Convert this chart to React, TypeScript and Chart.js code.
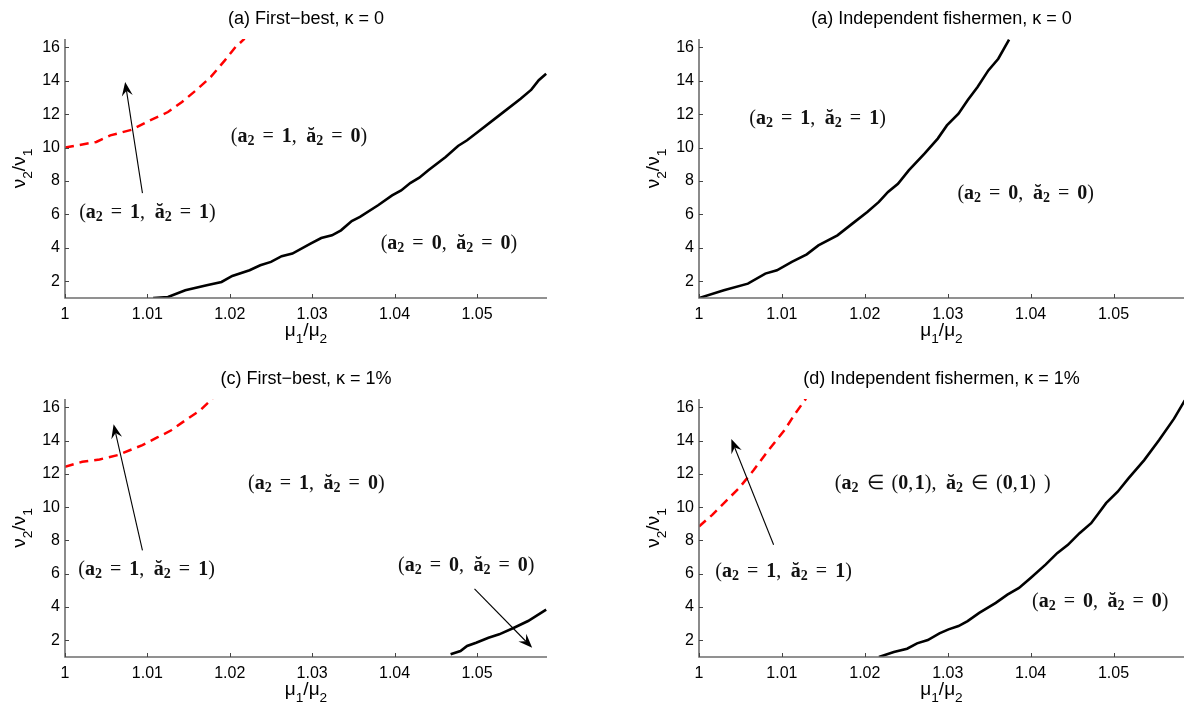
import React, { useEffect, useRef } from 'react';
import { Chart, registerables } from 'chart.js';

Chart.register(...registerables);

// ---------- data ----------
const xTicks = [1, 1.01, 1.02, 1.03, 1.04, 1.05];
const yTicks = [2, 4, 6, 8, 10, 12, 14, 16];
const xRange = [1, 1.0585];
const yRange = [1, 16.5];

// (a) First-best, kappa = 0
const aRedX = [1, 1.0038, 1.0055, 1.0081, 1.0103, 1.0125, 1.0142, 1.0159, 1.0177, 1.0194, 1.0207, 1.0218];
const aRedY = [10.0, 10.34, 10.73, 11.07, 11.63, 12.13, 12.73, 13.43, 14.23, 15.22, 16.02, 16.52];
const aBlackX = [1.0107, 1.0125, 1.0146, 1.0172, 1.019, 1.0203, 1.0224, 1.0237, 1.025, 1.0263, 1.0276, 1.0298, 1.0311, 1.0324, 1.0335, 1.0348, 1.0358, 1.038, 1.0397, 1.0408, 1.0419, 1.043, 1.0441, 1.0462, 1.0477, 1.0488, 1.0501, 1.0527, 1.0553, 1.0566, 1.0575, 1.0584];
const aBlackY = [1.0, 1.06, 1.46, 1.76, 1.96, 2.32, 2.66, 2.96, 3.16, 3.5, 3.66, 4.25, 4.59, 4.75, 5.05, 5.61, 5.85, 6.55, 7.14, 7.44, 7.88, 8.2, 8.64, 9.44, 10.1, 10.44, 10.93, 11.93, 12.93, 13.47, 14.03, 14.42];

// (b) Independent fishermen, kappa = 0
const bBlackX = [1, 1.003, 1.0059, 1.008, 1.0094, 1.0112, 1.013, 1.0144, 1.0167, 1.0185, 1.0203, 1.0217, 1.0228, 1.024, 1.0253, 1.0272, 1.0288, 1.0299, 1.0313, 1.0324, 1.0336, 1.0349, 1.0361, 1.0374];
const bBlackY = [1.0, 1.46, 1.86, 2.46, 2.66, 3.16, 3.61, 4.15, 4.75, 5.45, 6.15, 6.75, 7.35, 7.84, 8.64, 9.64, 10.54, 11.33, 12.03, 12.83, 13.63, 14.62, 15.32, 16.46];

// (c) First-best, kappa = 1%
const cRedX = [1, 1.0021, 1.0042, 1.0064, 1.0094, 1.0112, 1.0129, 1.0146, 1.0164, 1.0179];
const cRedY = [12.43, 12.73, 12.87, 13.13, 13.73, 14.19, 14.62, 15.22, 15.82, 16.52];
const cBlackX = [1.0468, 1.048, 1.0488, 1.0499, 1.0514, 1.0527, 1.0545, 1.0562, 1.0584];
const cBlackY = [1.16, 1.36, 1.66, 1.86, 2.16, 2.36, 2.76, 3.16, 3.85];

// (d) Independent fishermen, kappa = 1%
const dRedX = [1, 1.0016, 1.0034, 1.0048, 1.0066, 1.0084, 1.0103, 1.0116, 1.0129];
const dRedY = [8.84, 9.54, 10.44, 11.13, 12.23, 13.43, 14.62, 15.62, 16.52];
const dBlackX = [1.0217, 1.0235, 1.0251, 1.0263, 1.0276, 1.029, 1.0301, 1.0313, 1.0324, 1.0338, 1.0358, 1.0372, 1.0386, 1.04, 1.0418, 1.0432, 1.0445, 1.0459, 1.0473, 1.0482, 1.0491, 1.0505, 1.0518, 1.0537, 1.0555, 1.0573, 1.0586];
const dBlackY = [1.0, 1.3, 1.5, 1.82, 2.02, 2.42, 2.66, 2.86, 3.16, 3.65, 4.25, 4.75, 5.15, 5.75, 6.55, 7.24, 7.74, 8.44, 9.04, 9.64, 10.24, 10.93, 11.73, 12.83, 14.03, 15.32, 16.42];

const titles = [
  '(a) First\u2212best, \u03ba = 0',
  '(a) Independent fishermen, \u03ba = 0',
  '(c) First\u2212best, \u03ba = 1%',
  '(d) Independent fishermen, \u03ba = 1%',
];
const xLabel = '\u03bc_1/\u03bc_2';
const yLabel = '\u03bd_2/\u03bd_1';

const aLabels = [
  { text: '(a_2 = 1, \u0103_2 = 0)', x: 1.0284, y: 10.67 },
  { text: '(a_2 = 1, \u0103_2 = 1)', x: 1.01, y: 6.11 },
  { text: '(a_2 = 0, \u0103_2 = 0)', x: 1.0466, y: 4.25 },
];
const aArrows = [{ x0: 1.0094, y0: 7.28, x1: 1.0073, y1: 13.93 }];
const bLabels = [
  { text: '(a_2 = 1, \u0103_2 = 1)', x: 1.0143, y: 11.73 },
  { text: '(a_2 = 0, \u0103_2 = 0)', x: 1.0394, y: 7.24 },
];
const bArrows: any[] = [];
const cLabels = [
  { text: '(a_2 = 1, \u0103_2 = 0)', x: 1.0305, y: 11.39 },
  { text: '(a_2 = 1, \u0103_2 = 1)', x: 1.0099, y: 6.21 },
  { text: '(a_2 = 0, \u0103_2 = 0)', x: 1.0487, y: 6.45 },
];
const cArrows = [
  { x0: 1.0094, y0: 7.4, x1: 1.0059, y1: 14.98 },
  { x0: 1.0497, y0: 5.09, x1: 1.0567, y1: 1.56 },
];
const dLabels = [
  { text: '(a_2 \u2208 (0,1), \u0103_2 \u2208 (0,1) )', x: 1.0294, y: 11.39 },
  { text: '(a_2 = 1, \u0103_2 = 1)', x: 1.0102, y: 6.11 },
  { text: '(a_2 = 0, \u0103_2 = 0)', x: 1.0484, y: 4.29 },
];
const dArrows = [{ x0: 1.009, y0: 7.74, x1: 1.0039, y1: 14.09 }];

// ---------- layout ----------
const layouts = [
  { left: 0, top: 0, w: 594, h: 355, pl: 65, pr: 547, pt: 39, pb: 298 },
  { left: 594, top: 0, w: 594, h: 355, pl: 105, pr: 590, pt: 39, pb: 298 },
  { left: 0, top: 355, w: 594, h: 356, pl: 65, pr: 547, pt: 44, pb: 302 },
  { left: 594, top: 355, w: 594, h: 356, pl: 105, pr: 590, pt: 44, pb: 302 },
];

const zip = (xs: number[], ys: number[]) => xs.map((x, i) => ({ x, y: ys[i] }));

const panels = [
  { red: zip(aRedX, aRedY), black: zip(aBlackX, aBlackY), labels: aLabels, arrows: aArrows },
  { red: null, black: zip(bBlackX, bBlackY), labels: bLabels, arrows: bArrows },
  { red: zip(cRedX, cRedY), black: zip(cBlackX, cBlackY), labels: cLabels, arrows: cArrows },
  { red: zip(dRedX, dRedY), black: zip(dBlackX, dBlackY), labels: dLabels, arrows: dArrows },
];

type RichOpts = { family: string; size: number; bold: boolean; space: number; subScale: number; subShift: number; commaSpace: number };

function richParts(text: string) {
  const parts: { s: string; sub: boolean; bold: boolean }[] = [];
  for (let i = 0; i < text.length; i++) {
    const ch = text[i];
    if (ch === '_') {
      parts.push({ s: text[i + 1], sub: true, bold: true });
      i++;
      continue;
    }
    parts.push({ s: ch, sub: false, bold: /[0-9A-Za-z\u0103]/.test(ch) });
  }
  return parts;
}

function fontFor(o: RichOpts, p: { sub: boolean; bold: boolean }) {
  const sz = p.sub ? o.size * o.subScale : o.size;
  return `${o.bold && p.bold ? 'bold ' : ''}${sz}px ${o.family}`;
}

function richWidth(ctx: CanvasRenderingContext2D, text: string, o: RichOpts) {
  let w = 0;
  for (const p of richParts(text)) {
    if (p.s === ' ') { w += o.space * o.size; continue; }
    ctx.font = fontFor(o, p);
    w += ctx.measureText(p.s).width;
    if (p.s === ',') w += o.commaSpace * o.size;
  }
  return w;
}

function drawRich(ctx: CanvasRenderingContext2D, text: string, x: number, baseline: number, o: RichOpts, align: 'left' | 'center') {
  const total = richWidth(ctx, text, o);
  let cx = align === 'center' ? x - total / 2 : x;
  ctx.textAlign = 'left';
  ctx.textBaseline = 'alphabetic';
  for (const p of richParts(text)) {
    if (p.s === ' ') { cx += o.space * o.size; continue; }
    ctx.font = fontFor(o, p);
    ctx.fillText(p.s, cx, baseline + (p.sub ? o.subShift * o.size : 0));
    cx += ctx.measureText(p.s).width;
    if (p.s === ',') cx += o.commaSpace * o.size;
  }
}

const mathOpts: RichOpts = { family: '"Liberation Serif"', size: 20, bold: true, space: 0.4, subScale: 0.7, subShift: 0.15, commaSpace: 0.08 };
const axisOpts: RichOpts = { family: '"Liberation Sans"', size: 19, bold: false, space: 0.28, subScale: 0.72, subShift: 0.36, commaSpace: 0 };

function drawArrow(ctx: CanvasRenderingContext2D, x0: number, y0: number, x1: number, y1: number) {
  const ang = Math.atan2(y1 - y0, x1 - x0);
  const c = Math.cos(ang), s = Math.sin(ang);
  const L = 14, W = 5.5, N = 9;
  ctx.strokeStyle = '#000';
  ctx.fillStyle = '#000';
  ctx.lineWidth = 1.1;
  ctx.beginPath();
  ctx.moveTo(x0, y0);
  ctx.lineTo(x1 - N * c, y1 - N * s);
  ctx.stroke();
  ctx.beginPath();
  ctx.moveTo(x1, y1);
  ctx.lineTo(x1 - L * c + W * s, y1 - L * s - W * c);
  ctx.lineTo(x1 - N * c, y1 - N * s);
  ctx.lineTo(x1 - L * c - W * s, y1 - L * s + W * c);
  ctx.closePath();
  ctx.fill();
}

function Panel({ idx }: { idx: number }) {
  const ref = useRef<HTMLCanvasElement | null>(null);
  const lay = layouts[idx];
  useEffect(() => {
    const panel = panels[idx];
    const datasets: any[] = [];
    if (panel.red) {
      datasets.push({ data: panel.red, showLine: true, borderColor: '#ff0000', borderWidth: 2.5, borderDash: [9, 6], pointRadius: 0, tension: 0, fill: false });
    }
    datasets.push({ data: panel.black, showLine: true, borderColor: '#000000', borderWidth: 2.6, pointRadius: 0, tension: 0, fill: false });

    const deco = {
      id: 'deco',
      afterDraw(chart: any) {
        const ctx: CanvasRenderingContext2D = chart.ctx;
        const a = chart.chartArea;
        const xs = chart.scales.x, ys = chart.scales.y;
        ctx.save();
        // axes
        ctx.strokeStyle = '#6e6e6e';
        ctx.lineWidth = 1.6;
        ctx.beginPath();
        ctx.moveTo(a.left, a.top);
        ctx.lineTo(a.left, a.bottom);
        ctx.lineTo(a.right, a.bottom);
        ctx.stroke();
        ctx.lineWidth = 1;
        ctx.strokeStyle = '#444';
        ctx.beginPath();
        for (const v of xTicks) {
          const px = Math.round(xs.getPixelForValue(v)) + 0.5;
          ctx.moveTo(px, a.bottom);
          ctx.lineTo(px, a.bottom - 4);
        }
        for (const v of yTicks) {
          const py = Math.round(ys.getPixelForValue(v)) + 0.5;
          ctx.moveTo(a.left, py);
          ctx.lineTo(a.left + 4, py);
        }
        ctx.stroke();
        // title
        ctx.fillStyle = '#000';
        ctx.font = '18px "Liberation Sans"';
        ctx.textAlign = 'center';
        ctx.textBaseline = 'alphabetic';
        ctx.fillText(titles[idx], (a.left + a.right) / 2, a.top - 15);
        // axis labels
        drawRich(ctx, xLabel, (a.left + a.right) / 2, a.bottom + 38, axisOpts, 'center');
        ctx.save();
        ctx.translate(a.left - 40, (a.top + a.bottom) / 2);
        ctx.rotate(-Math.PI / 2);
        drawRich(ctx, yLabel, 0, 0, axisOpts, 'center');
        ctx.restore();
        // region labels
        ctx.fillStyle = '#111';
        for (const l of panel.labels) {
          const px = xs.getPixelForValue(l.x);
          const py = ys.getPixelForValue(l.y);
          drawRich(ctx, l.text, px, py + 0.26 * mathOpts.size, mathOpts, 'center');
        }
        for (const ar of panel.arrows) {
          drawArrow(ctx, xs.getPixelForValue(ar.x0), ys.getPixelForValue(ar.y0), xs.getPixelForValue(ar.x1), ys.getPixelForValue(ar.y1));
        }
        ctx.restore();
      },
    };

    const chart = new Chart(ref.current as HTMLCanvasElement, {
      type: 'scatter',
      data: { datasets },
      options: {
        animation: false,
        responsive: false,
        maintainAspectRatio: false,
        events: [],
        layout: { padding: { left: 0, top: lay.pt, right: lay.w - lay.pr, bottom: 0 } },
        plugins: { legend: { display: false }, tooltip: { enabled: false }, title: { display: false } },
        scales: {
          x: {
            type: 'linear',
            min: xRange[0],
            max: xRange[1],
            grid: { display: false, drawTicks: false },
            border: { display: false },
            afterBuildTicks: (s: any) => { s.ticks = xTicks.map((v) => ({ value: v })); },
            afterFit: (s: any) => { s.height = lay.h - lay.pb; },
            ticks: {
              autoSkip: false,
              maxRotation: 0,
              padding: 7,
              color: '#000',
              font: { family: '"Liberation Sans"', size: 16 },
              callback: (v: any) => (Math.abs(v - 1) < 1e-9 ? '1' : Number(v).toFixed(2)),
            },
          },
          y: {
            type: 'linear',
            min: yRange[0],
            max: yRange[1],
            grid: { display: false, drawTicks: false },
            border: { display: false },
            afterBuildTicks: (s: any) => { s.ticks = yTicks.map((v) => ({ value: v })); },
            afterFit: (s: any) => { s.width = lay.pl; },
            ticks: {
              autoSkip: false,
              padding: 5,
              color: '#000',
              font: { family: '"Liberation Sans"', size: 16 },
              callback: (v: any) => String(v),
            },
          },
        },
      },
      plugins: [deco],
    } as any);
    return () => chart.destroy();
  }, [idx]);
  return (
    <canvas
      ref={ref}
      width={lay.w}
      height={lay.h}
      style={{ position: 'absolute', left: lay.left, top: lay.top, width: lay.w, height: lay.h }}
    />
  );
}

export default function App() {
  return (
    <div style={{ position: 'absolute', left: 0, top: 0, width: 1188, height: 711, background: '#fff', overflow: 'hidden' }}>
      {[0, 1, 2, 3].map((i) => (
        <Panel key={i} idx={i} />
      ))}
    </div>
  );
}
